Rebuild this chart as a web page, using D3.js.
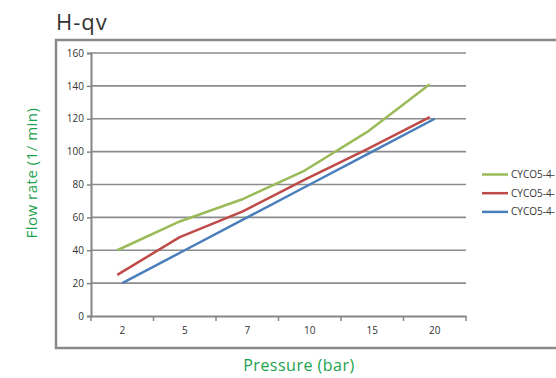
<!DOCTYPE html>
<html><head><meta charset="utf-8">
<script src="https://cdn.jsdelivr.net/npm/d3@7"></script>
<style>
html,body{margin:0;padding:0;background:#fff;overflow:hidden;}
svg{display:block;}
text{font-family:"Open Sans","DejaVu Sans",sans-serif;}
</style></head>
<body>
<svg id="c" width="556" height="378"></svg>
<script>
const categories = ["2","5","7","10","15","20"];
const seriesNames = ["CYCO5-4-","CYCO5-4-","CYCO5-4-"];
const greenValues = [40, 57.5, 71, 88.5, 112, 141];
const redValues = [25, 48, 63.5, 83, 101.5, 121];
const blueValues = [20, 40, 60, 80, 100, 120];
const yTicks = [0,20,40,60,80,100,120,140,160];

const colors = ["#9bbb59","#be4b48","#4a7ebb"];
const seriesDx = [-5,-5,0];
const series = [greenValues, redValues, blueValues];

const svg = d3.select("#c");
const L = 91, R = 466, T = 53, B = 316;

// outer frame
svg.append("rect").attr("x",56).attr("y",40).attr("width",520).attr("height",308)
  .attr("fill","none").attr("stroke","#8a8a8a").attr("stroke-width",2.5);

// title
svg.append("text").attr("x",56).attr("y",30).attr("font-size",22).attr("fill","#333")
  .attr("letter-spacing","1").text("H-qv");

const x = d3.scaleBand().domain(categories).range([L,R]).paddingInner(0).paddingOuter(0);
const y = d3.scaleLinear().domain([0,160]).range([B,T]);

// gridlines
svg.append("g").selectAll("line").data(yTicks.filter(d=>d>0)).join("line")
  .attr("x1",L).attr("x2",R).attr("y1",d=>y(d)).attr("y2",d=>y(d))
  .attr("stroke","#8c8c8c").attr("stroke-width",1.6);

// y axis
const ya = svg.append("g").attr("transform",`translate(${L},0)`)
  .call(d3.axisLeft(y).tickValues(yTicks).tickSize(4).tickPadding(3));
ya.select(".domain").attr("stroke","#868686").attr("stroke-width",2);
ya.selectAll(".tick line").attr("stroke","#868686").attr("stroke-width",1.5);
ya.selectAll("text").attr("font-size",10).attr("fill","#333").attr("font-family","'Open Sans',sans-serif");

// x axis
const xa = svg.append("g").attr("transform",`translate(0,${B})`)
  .call(d3.axisBottom(x).tickSize(0).tickPadding(11));
xa.select(".domain").attr("stroke","#868686").attr("stroke-width",2);
xa.selectAll("text").attr("font-size",10).attr("fill","#333").attr("font-family","'Open Sans',sans-serif");
const bounds = categories.map(c=>x(c)).concat([x(categories[categories.length-1])+x.bandwidth()]);
svg.append("g").selectAll("line").data(bounds).join("line")
  .attr("x1",d=>d).attr("x2",d=>d).attr("y1",B).attr("y2",B+5)
  .attr("stroke","#868686").attr("stroke-width",1.5);

// lines
series.forEach((vals,i)=>{
  const line = d3.line().x((d,j)=>x(categories[j])+x.bandwidth()/2+seriesDx[i]).y(d=>y(d));
  svg.append("path").datum(vals).attr("d",line).attr("fill","none")
    .attr("stroke",colors[i]).attr("stroke-width",2.5).attr("stroke-linejoin","round");
});

// axis titles
svg.append("text").attr("transform","translate(37,173) rotate(-90)").attr("text-anchor","middle")
  .attr("font-size",15).attr("fill","#1ba24c").attr("letter-spacing","0.5").text("Flow rate (1/ min)");
svg.append("text").attr("x",299).attr("y",371).attr("text-anchor","middle")
  .attr("font-size",16).attr("fill","#1ba24c").attr("letter-spacing","0.5").text("Pressure (bar)");

// legend
const lg = svg.append("g");
seriesNames.forEach((n,i)=>{
  const yy = 174.5 + i*18.7;
  lg.append("line").attr("x1",482).attr("x2",508).attr("y1",yy).attr("y2",yy)
    .attr("stroke",colors[i]).attr("stroke-width",2.5);
  lg.append("text").attr("x",511).attr("y",yy+3.5).attr("font-size",10).attr("fill","#333").text(n);
});
</script>
</body></html>
